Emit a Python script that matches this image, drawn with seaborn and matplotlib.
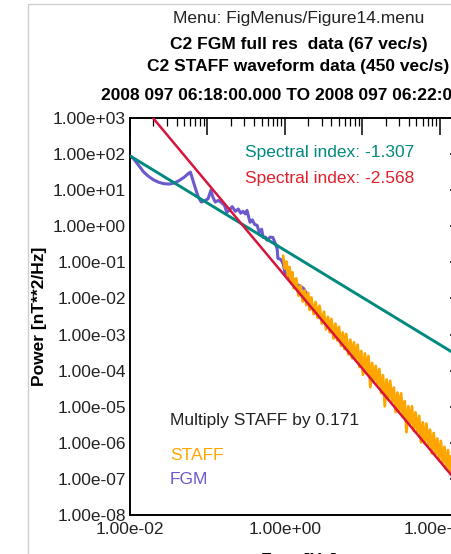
import numpy as np
import pandas as pd
import matplotlib
matplotlib.use("Agg")
import matplotlib.pyplot as plt
import seaborn as sns
from matplotlib.ticker import FixedLocator, LogLocator, FuncFormatter, NullFormatter
from matplotlib.patches import Rectangle

# ---------------- data ----------------
FGM_FREQ = [0.0100, 0.0110, 0.0120, 0.0132, 0.0148, 0.0170, 0.0200, 0.0234, 0.0275, 0.0324,
            0.0372, 0.0427, 0.0501, 0.0575, 0.0603, 0.0676, 0.0759, 0.0832, 0.0912, 0.102,
            0.111, 0.117, 0.126, 0.138, 0.151, 0.166, 0.178, 0.191, 0.209, 0.229,
            0.251, 0.269, 0.288, 0.309, 0.324, 0.355, 0.380, 0.407, 0.437, 0.468,
            0.501, 0.525, 0.562, 0.589, 0.646, 0.700, 0.759, 0.794, 0.813, 0.891,
            0.955, 1.000, 1.096, 1.202, 1.318, 1.445, 1.585, 1.738, 1.905]
FGM_POWER = [89, 76, 60, 46, 33, 25, 19.5, 16.6, 15.1, 14.8,
             15.8, 18.2, 22.9, 29.5, 31.6, 14.1, 6.6, 4.7, 5.0, 5.8,
             10.0, 6.6, 4.7, 5.2, 4.6, 3.8, 2.4, 2.8, 3.5, 2.6,
             3.0, 2.3, 2.6, 2.2, 2.75, 1.29, 1.5, 1.12, 1.07, 0.68,
             0.83, 0.49, 0.50, 0.41, 0.50, 0.49, 0.32, 0.24, 0.129, 0.120,
             0.089, 0.052, 0.045, 0.032, 0.033, 0.024, 0.022, 0.019, 0.0138]

STAFF_FREQ = [0.95, 1.0, 1.05, 1.1, 1.15, 1.2, 1.25, 1.3, 1.4, 1.5, 1.6, 1.7, 1.8, 1.9, 2.0,
              2.1, 2.2, 2.35, 2.5, 2.65, 2.8, 3.0, 3.2, 3.4, 3.6, 3.8, 4.0, 4.25, 4.5, 4.75,
              5.0, 5.3, 5.6, 5.9, 6.2, 6.6, 7.0, 7.4, 7.8, 8.2, 8.7, 9.2, 9.7, 10.2, 10.8,
              11.4, 12.0, 12.7, 13.4, 14.1, 14.9, 15.7, 16.6, 17.5, 18.5, 19.5, 20.6, 21.7,
              22.9, 24.2, 25.5, 27, 28.5, 30, 31.7, 33.4, 35.3, 37.2, 39.3, 41.5, 43.8, 46.2,
              48.7, 51.4, 54.3, 57.3, 60.5, 63.8, 67.3, 71, 75, 79, 83.5, 88, 93, 98, 103.5,
              109, 115, 121.5, 128, 135, 142.5, 150, 158.5, 167, 176.5, 186, 196.5, 207,
              218.5, 225]
STAFF_POWER = [1.53e-1, 6.7e-2, 1.05e-1, 4.2e-2, 7.4e-2, 2.65e-2, 5.3e-2, 1.92e-2, 3.6e-2, 1.19e-2,
               2.25e-2, 8.2e-3, 1.66e-2, 6.5e-3, 1.43e-2, 4.8e-3, 1.07e-2, 3.7e-3, 8.0e-3, 2.9e-3,
               6.3e-3, 2.0e-3, 4.3e-3, 1.39e-3, 3.1e-3, 1.14e-3, 2.7e-3, 7.8e-4, 2.0e-3, 6.9e-4,
               1.63e-3, 4.9e-4, 1.14e-3, 3.95e-4, 1.03e-3, 2.8e-4, 7.2e-4, 2.2e-4, 6.1e-4, 1.9e-4,
               5.2e-4, 1.26e-4, 3.5e-4, 7.7e-5, 3.0e-4, 8.2e-5, 2.55e-4, 3.5e-5, 1.63e-4, 4.7e-5,
               1.36e-4, 4.0e-5, 1.11e-4, 2.4e-5, 7.5e-5, 1.03e-5, 5.7e-5, 1.57e-5, 5.2e-5, 1.33e-5,
               3.4e-5, 7.1e-6, 2.46e-5, 7.1e-6, 2.35e-5, 5.2e-6, 1.42e-5, 1.97e-6, 1.03e-5, 3.3e-6,
               1.03e-5, 2.15e-6, 7.0e-6, 1.92e-6, 5.6e-6, 1.03e-6, 3.7e-6, 9.8e-7, 3.4e-6, 8.4e-7,
               2.3e-6, 5.1e-7, 1.87e-6, 4.8e-7, 1.32e-6, 3.3e-7, 1.13e-6, 2.8e-7, 7.7e-7, 1.88e-7,
               6.3e-7, 1.61e-7, 4.4e-7, 9.7e-8, 3.4e-7, 8.3e-8, 2.7e-7, 7.1e-8, 1.94e-7, 4.8e-8,
               1.38e-7, 4.3e-8]

FIT_FREQ_RANGE = [0.01, 225]
GREEN_INDEX, GREEN_AMP = -1.307, 0.217     # power at 1 Hz
RED_INDEX, RED_AMP = -2.568, 0.0424
STAFF_FACTOR = 0.171

TITLES = ["Menu: FigMenus/Figure14.menu",
          "C2 FGM full res  data (67 vec/s)",
          "C2 STAFF waveform data (450 vec/s)",
          "2008 097 06:18:00.000 TO 2008 097 06:22:00.000"]
Y_TICKS = [1e3, 1e2, 1e1, 1e0, 1e-1, 1e-2, 1e-3, 1e-4, 1e-5, 1e-6, 1e-7, 1e-8]
X_TICKS = [1e-2, 1e-1, 1e0, 1e1, 1e2]
X_LABELED = [1e-2, 1e0, 1e2]

# ---------------- style ----------------
sns.set_theme(style="white")
plt.rcParams["font.family"] = ["Liberation Sans", "DejaVu Sans"]
TEAL = "#00897e"
RED = "#d8143c"
ORANGE = "#ffa500"
PURPLE = "#6a5acd"
TXT = "#222222"

W, H = 451, 554
fig = plt.figure(figsize=(W / 100, H / 100), dpi=100)
fig.patch.set_facecolor("white")
ax_l, ax_r, ax_t, ax_b = 130, 467, 118, 515
ax = fig.add_axes([ax_l / W, 1 - ax_b / H, (ax_r - ax_l) / W, (ax_b - ax_t) / H])

fgm = pd.DataFrame({"freq": FGM_FREQ, "power": FGM_POWER})
staff = pd.DataFrame({"freq": STAFF_FREQ, "power": STAFF_POWER})
ff = np.array(FIT_FREQ_RANGE, dtype=float)
green = pd.DataFrame({"freq": ff, "power": GREEN_AMP * ff ** GREEN_INDEX})
red = pd.DataFrame({"freq": ff, "power": RED_AMP * ff ** RED_INDEX})

sns.lineplot(data=fgm, x="freq", y="power", ax=ax, color=PURPLE, lw=2.2, sort=False, estimator=None, zorder=2)
sns.lineplot(data=staff, x="freq", y="power", ax=ax, color=ORANGE, lw=2.0, sort=False, estimator=None, zorder=3)
sns.lineplot(data=green, x="freq", y="power", ax=ax, color=TEAL, lw=2.1, estimator=None, zorder=4)
sns.lineplot(data=red, x="freq", y="power", ax=ax, color=RED, lw=1.8, estimator=None, zorder=5)

ax.set_xscale("log")
ax.set_yscale("log")
ax.set_xlim(1e-2, 225)
ax.set_ylim(1e-8, 1e3)
ax.set_xlabel("")
ax.set_ylabel("Power [nT**2/Hz]", fontsize=12.5, fontweight="bold", color="black", labelpad=4)

ax.xaxis.set_major_locator(FixedLocator(X_TICKS))
ax.xaxis.set_major_formatter(FuncFormatter(lambda v, p: f"{v:.2e}" if any(abs(v - t) < t * 1e-6 for t in X_LABELED) else ""))
ax.xaxis.set_minor_locator(LogLocator(base=10, subs=np.arange(2, 10), numticks=50))
ax.xaxis.set_minor_formatter(NullFormatter())
ax.yaxis.set_major_locator(FixedLocator(Y_TICKS))
ax.yaxis.set_major_formatter(FuncFormatter(lambda v, p: f"{v:.2e}"))
ax.yaxis.set_minor_locator(LogLocator(base=10, subs=np.arange(2, 10), numticks=50))
ax.yaxis.set_minor_formatter(NullFormatter())

ax.tick_params(which="major", direction="in", length=12, width=1.1, top=True, right=True,
               labelsize=12.5, labelcolor=TXT, color="black", pad=3)
ax.tick_params(which="minor", direction="in", length=5.5, width=0.9, top=True, right=True, color="black")
ax.tick_params(axis="x", which="major", pad=5)
for s in ax.spines.values():
    s.set_color("black")
    s.set_linewidth(1.4)

def axf(px, py):
    return (px - ax_l) / (ax_r - ax_l), (ax_b - py) / (ax_b - ax_t)

ax.text(*axf(245, 152), "Spectral index: -1.307", transform=ax.transAxes, color=TEAL, fontsize=12.5, va="center")
ax.text(*axf(245, 179), "Spectral index: -2.568", transform=ax.transAxes, color="#e0202c", fontsize=12.5, va="center")
ax.text(*axf(170, 421), f"Multiply STAFF by {STAFF_FACTOR}", transform=ax.transAxes, color=TXT, fontsize=12.5, va="center")
ax.text(*axf(170, 456), "STAFF", transform=ax.transAxes, color=ORANGE, fontsize=12.5, va="center")
ax.text(*axf(170, 479), "FGM", transform=ax.transAxes, color=PURPLE, fontsize=12.5, va="center")

cx = (ax_l + ax_r) / 2 / W
for txt, py, wt in zip(TITLES, [19, 45, 67, 96], ["normal", "bold", "bold", "bold"]):
    fig.text(cx, 1 - py / H, txt, ha="center", va="center", fontsize=12.5, fontweight=wt, color=TXT if wt == "normal" else "black")

fig.text(cx, 1 - 561 / H, "Freq [Hz]", ha="center", va="center", fontsize=12.5, fontweight="bold", color="black")

fig.patches.append(Rectangle((28 / W, -0.1), 1.0, 1 - 4 / H + 0.1, transform=fig.transFigure,
                             fill=False, edgecolor="#cfcfcf", lw=1.0, zorder=0))

fig.savefig("out.png", dpi=100)
